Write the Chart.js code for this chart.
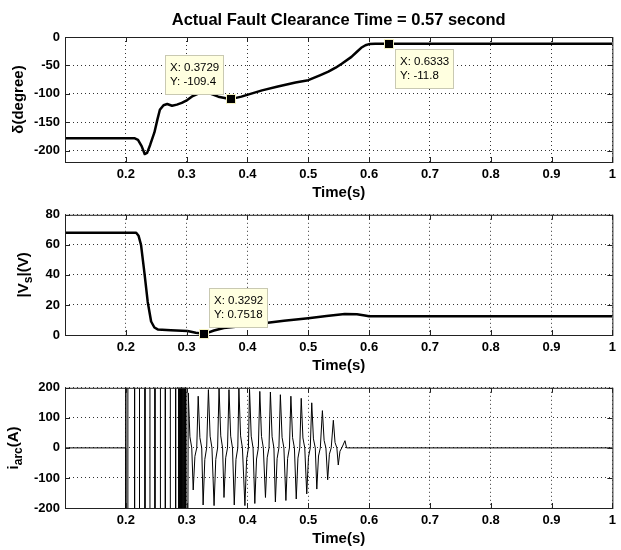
<!DOCTYPE html>
<html>
<head>
<meta charset="utf-8">
<script src="https://cdn.jsdelivr.net/npm/chart.js@4.4.1/dist/chart.umd.min.js"></script>
<style>
  html, body { margin: 0; padding: 0; background: #fff; }
  #wrap { position: relative; width: 621px; height: 550px; overflow: hidden; background: #fff; }
  canvas { position: absolute; left: 0; }
</style>
</head>
<body>
<div id="wrap">
  <canvas id="cDelta" width="621" height="202" style="top:0px"></canvas>
  <canvas id="cVs" width="621" height="173" style="top:202px"></canvas>
  <canvas id="cIarc" width="621" height="173" style="top:375px"></canvas>
</div>
<script>
// shared time axis
const xTicks = [0.2, 0.3, 0.4, 0.5, 0.6, 0.7, 0.8, 0.9, 1.0];

// rotor angle delta (degree)
const deltaT = [0.1, 0.214, 0.220, 0.226, 0.231, 0.235, 0.240, 0.247, 0.252, 0.256, 0.262, 0.268,
  0.276, 0.284, 0.292, 0.301, 0.310, 0.320, 0.330, 0.340, 0.352, 0.3729, 0.390, 0.424, 0.450,
  0.479, 0.500, 0.520, 0.533, 0.545, 0.555, 0.571, 0.580, 0.587, 0.594, 0.600, 0.610, 1.0];
const deltaV = [-178, -178, -181, -192, -206, -204, -190, -168, -145, -128, -120, -118,
  -121, -119, -116, -111, -104, -99, -97, -100, -105, -109.4, -105, -94, -87,
  -80, -76, -67, -61, -54, -47, -35, -26, -19, -14.5, -12.5, -11.8, -11.8];
const deltaTicks = [-200, -150, -100, -50, 0];
const deltaTipX = [0.3729, 0.6333];
const deltaTipY = [-109.4, -11.8];

// source voltage magnitude |Vs| (V)
const vsT = [0.1, 0.217, 0.221, 0.225, 0.2307, 0.236, 0.2416, 0.247, 0.2525, 0.274, 0.3015, 0.315,
  0.3292, 0.345, 0.361, 0.40, 0.43, 0.46, 0.50, 0.53, 0.56, 0.58, 0.593, 0.60, 1.0];
const vsV = [68, 68, 66, 60, 41, 22, 9, 5, 3.7, 3.2, 2.6, 1.5,
  0.7518, 3, 4.7, 6.3, 8, 9.5, 11.2, 12.7, 14, 13.8, 13, 12.5, 12.5];
const vsTicks = [0, 20, 40, 60, 80];
const vsTipX = [0.3292];
const vsTipY = [0.7518];

// arc current (A); the early strikes run far off the axis limits
const iarcT = [
  0.1, 0.2, 0.2, 0.2,
  0.2034, 0.2034, 0.2144, 0.2144, 0.2225, 0.2225, 0.2315, 0.2315, 0.2397, 0.2397,
  0.2479, 0.2479, 0.2569, 0.2569, 0.2650, 0.2650, 0.2732, 0.2732, 0.2819, 0.2819,
  0.2863, 0.2863, 0.2871, 0.2871, 0.2879, 0.2879, 0.2887, 0.2887, 0.2895, 0.2895,
  0.2903, 0.2903, 0.2911, 0.2911, 0.2920, 0.2920, 0.2929, 0.2929, 0.2938, 0.2938,
  0.2947, 0.2947, 0.2957, 0.2957, 0.2967, 0.2967, 0.2977, 0.2977, 0.2988, 0.2988,
  0.2993,
  0.3026, 0.3054, 0.3084,  0.3108, 0.3136, 0.3166,
  0.3190, 0.3218, 0.3248,  0.3271, 0.3299, 0.3329,
  0.3358, 0.3386, 0.3416,  0.3451, 0.3479, 0.3509,
  0.3533, 0.3561, 0.3591,  0.3614, 0.3642, 0.3672,
  0.3696, 0.3724, 0.3754,  0.3783, 0.3811, 0.3841,
  0.3859, 0.3887, 0.3917,  0.3958, 0.3986, 0.4016,
  0.4034, 0.4062, 0.4092,  0.4121, 0.4149, 0.4179,
  0.4203, 0.4231, 0.4261,  0.4296, 0.4324, 0.4354,
  0.4377, 0.4405, 0.4435,  0.4459, 0.4487, 0.4517,
  0.4541, 0.4569, 0.4599,  0.4632, 0.4660, 0.4690,
  0.4714, 0.4742, 0.4772,  0.4802, 0.4830, 0.4860,
  0.4884, 0.4912, 0.4942,  0.4975, 0.5003, 0.5033,
  0.5057, 0.5085, 0.5115,  0.5140, 0.5168, 0.5198,
  0.5232, 0.5260, 0.5290,  0.5319, 0.5347, 0.5377,
  0.5412, 0.5440, 0.5470,  0.5493, 0.5521, 0.5551,
  0.5603, 0.5630, 1.0];
const iarcV = [
  0, 0, 2500, -2500,
  -2500, 2500, 2500, -2500, -2500, 2500, 2500, -2500, -2500, 2500,
  2500, -2500, -2500, 2500, 2500, -2500, -2500, 2500, 2500, -2500,
  -2500, 2500, 2500, -2500, -2500, 2500, 2500, -2500, -2500, 2500,
  2500, -2500, -2500, 2500, 2500, -2500, -2500, 2500, 2500, -2500,
  -2500, 2500, 2500, -2500, -2500, 2500, 2500, -2500, -2500, 2500,
  -2500,
  183, 37, 0,  -140, -28, 0,
  172, 34, 0,  -190, -38, 0,
  194, 39, 0,  -192, -38, 0,
  199, 40, 0,  -165, -33, 0,
  194, 39, 0,  -190, -38, 0,
  199, 40, 0,  -192, -38, 0,
  195, 39, 0,  -185, -37, 0,
  188, 38, 0,  -165, -33, 0,
  186, 37, 0,  -180, -36, 0,
  177, 35, 0,  -175, -35, 0,
  172, 34, 0,  -170, -34, 0,
  165, 33, 0,  -153, -31, 0,
  150, 30, 0,  -137, -27, 0,
  124, 25, 0,  -106, -21, 0,
  92, 18, 0,   -57, -11, 0,
  24, 0, 0];
const iarcTicks = [-200, -100, 0, 100, 200];

const FONT = '"Liberation Sans", Arial, Helvetica, sans-serif';
const AXIS_COLOR = '#222';

function pairs(xs, ys) {
  return xs.map((x, i) => ({ x: x, y: ys[i] }));
}

// rotated y label, with optional subscript pieces
function drawYLabel(ctx, parts, cx, cy) {
  ctx.save();
  ctx.translate(cx, cy);
  ctx.rotate(-Math.PI / 2);
  ctx.fillStyle = '#000';
  ctx.textBaseline = 'middle';
  ctx.textAlign = 'left';
  let total = 0;
  parts.forEach(p => {
    ctx.font = p.sub ? 'bold 12px ' + FONT : 'bold 15px ' + FONT;
    p.w = ctx.measureText(p.text).width;
    total += p.w;
  });
  let x = -total / 2;
  parts.forEach(p => {
    ctx.font = p.sub ? 'bold 12px ' + FONT : 'bold 15px ' + FONT;
    ctx.fillText(p.text, x, p.sub ? 5 : 0);
    x += p.w;
  });
  ctx.restore();
}

function drawTip(ctx, mx, my, tip) {
  ctx.save();
  const lines = ['X: ' + tip.x, 'Y: ' + tip.y];
  ctx.font = '11.5px ' + FONT;
  const w = Math.round(Math.max(...lines.map(l => ctx.measureText(l).width)) + 10);
  const h = 40;
  const bx = Math.round(tip.side[1] === 'l' ? mx - tip.dx - w : mx + tip.dx);
  const by = Math.round(tip.side[0] === 'u' ? my - tip.dy - h : my + tip.dy);
  ctx.fillStyle = '#ffffe0';
  ctx.fillRect(bx, by, w, h);
  ctx.strokeStyle = '#c9c9b2';
  ctx.lineWidth = 1;
  ctx.strokeRect(bx + 0.5, by + 0.5, w - 1, h - 1);
  ctx.fillStyle = '#000';
  ctx.textBaseline = 'middle';
  ctx.textAlign = 'left';
  ctx.fillText(lines[0], bx + 5, by + 13);
  ctx.fillText(lines[1], bx + 5, by + 27);
  // marker
  ctx.fillStyle = '#000';
  ctx.fillRect(Math.round(mx) - 4, Math.round(my) - 4, 8, 8);
  ctx.strokeStyle = '#f3f0c0';
  ctx.strokeRect(Math.round(mx) - 4.5, Math.round(my) - 4.5, 9, 9);
  ctx.restore();
}

// MATLAB-style axes: inner ticks, box, labels and data tips
const matlabAxes = {
  id: 'matlabAxes',
  afterDraw(chart, args, opts) {
    const ctx = chart.ctx;
    const { left, right, top, bottom } = chart.chartArea;
    const xs = chart.scales.x, ys = chart.scales.y;
    ctx.save();
    ctx.strokeStyle = AXIS_COLOR;
    ctx.lineWidth = 1;
    ctx.beginPath();
    xs.ticks.forEach(t => {
      const px = Math.round(xs.getPixelForValue(t.value)) + 0.5;
      ctx.moveTo(px, bottom); ctx.lineTo(px, bottom - 5);
      ctx.moveTo(px, top); ctx.lineTo(px, top + 5);
    });
    ys.ticks.forEach(t => {
      const py = Math.round(ys.getPixelForValue(t.value)) + 0.5;
      ctx.moveTo(left, py); ctx.lineTo(left + 5, py);
      ctx.moveTo(right, py); ctx.lineTo(right - 5, py);
    });
    ctx.stroke();
    ctx.strokeRect(left + 0.5, top + 0.5, right - left, bottom - top);
    ctx.restore();

    drawYLabel(ctx, opts.yLabel, opts.labelX, (top + bottom) / 2);

    if (opts.title) {
      ctx.save();
      ctx.font = 'bold 16.5px ' + FONT;
      ctx.fillStyle = '#000';
      ctx.textAlign = 'center';
      ctx.textBaseline = 'alphabetic';
      ctx.fillText(opts.title, (left + right) / 2, 25);
      ctx.restore();
    }

    (opts.tips || []).forEach(tip => {
      drawTip(ctx, xs.getPixelForValue(tip.x), ys.getPixelForValue(tip.y), tip);
    });
  }
};

function makePlot(id, padTop, data, lineWidth, yMin, yMax, yTicks, plugOpts) {
  return new Chart(document.getElementById(id), {
    type: 'line',
    data: {
      datasets: [{
        data: data,
        borderColor: '#000',
        borderWidth: lineWidth,
        pointRadius: 0,
        tension: 0,
        fill: false,
        borderJoinStyle: 'round'
      }]
    },
    options: {
      responsive: false,
      animation: false,
      events: [],
      layout: { padding: { top: padTop, right: 5, bottom: 0, left: 0 } },
      plugins: {
        legend: { display: false },
        tooltip: { enabled: false },
        matlabAxes: plugOpts
      },
      scales: {
        x: {
          type: 'linear',
          min: 0.1,
          max: 1,
          afterBuildTicks: s => { s.ticks = xTicks.map(v => ({ value: v })); },
          afterFit: s => { s.height = 40; },
          grid: { color: 'rgba(0,0,0,0.8)', lineWidth: 1, drawTicks: false },
          border: { display: false, dash: [1, 3] },
          ticks: {
            autoSkip: false,
            maxRotation: 0,
            padding: 5,
            color: '#000',
            font: { family: FONT, size: 13, weight: 'bold' },
            callback: v => String(Number(v.toFixed(2)))
          },
          title: {
            display: true,
            text: 'Time(s)',
            color: '#000',
            font: { family: FONT, size: 15, weight: 'bold' },
            padding: { top: 0, bottom: 0.5 }
          }
        },
        y: {
          min: yMin,
          max: yMax,
          afterBuildTicks: s => { s.ticks = yTicks.map(v => ({ value: v })); },
          afterFit: s => { s.width = 65; },
          grid: { color: 'rgba(0,0,0,0.8)', lineWidth: 1, drawTicks: false },
          border: { display: false, dash: [1, 3] },
          ticks: {
            padding: 5,
            color: '#000',
            font: { family: FONT, size: 13, weight: 'bold' }
          }
        }
      }
    },
    plugins: [matlabAxes]
  });
}

makePlot('cDelta', 37, pairs(deltaT, deltaV), 2.5, -220, 0, deltaTicks, {
  title: 'Actual Fault Clearance Time = 0.57 second',
  yLabel: [{ text: 'δ(degree)' }],
  labelX: 18.5,
  tips: [
    { x: deltaTipX[0], y: deltaTipY[0], side: 'ul', dx: 7, dy: 4 },
    { x: deltaTipX[1], y: deltaTipY[1], side: 'dr', dx: 6, dy: 5 }
  ]
});

makePlot('cVs', 9, pairs(vsT, vsV), 2.5, 0, 80, vsTicks, {
  yLabel: [{ text: '|V' }, { text: 's', sub: true }, { text: '|(V)' }],
  labelX: 24,
  tips: [
    { x: vsTipX[0], y: vsTipY[0], side: 'ur', dx: 5, dy: 6 }
  ]
});

makePlot('cIarc', 8, pairs(iarcT, iarcV), 1, -200, 200, iarcTicks, {
  yLabel: [{ text: 'i' }, { text: 'arc', sub: true }, { text: '(A)' }],
  labelX: 14
});
</script>
</body>
</html>
